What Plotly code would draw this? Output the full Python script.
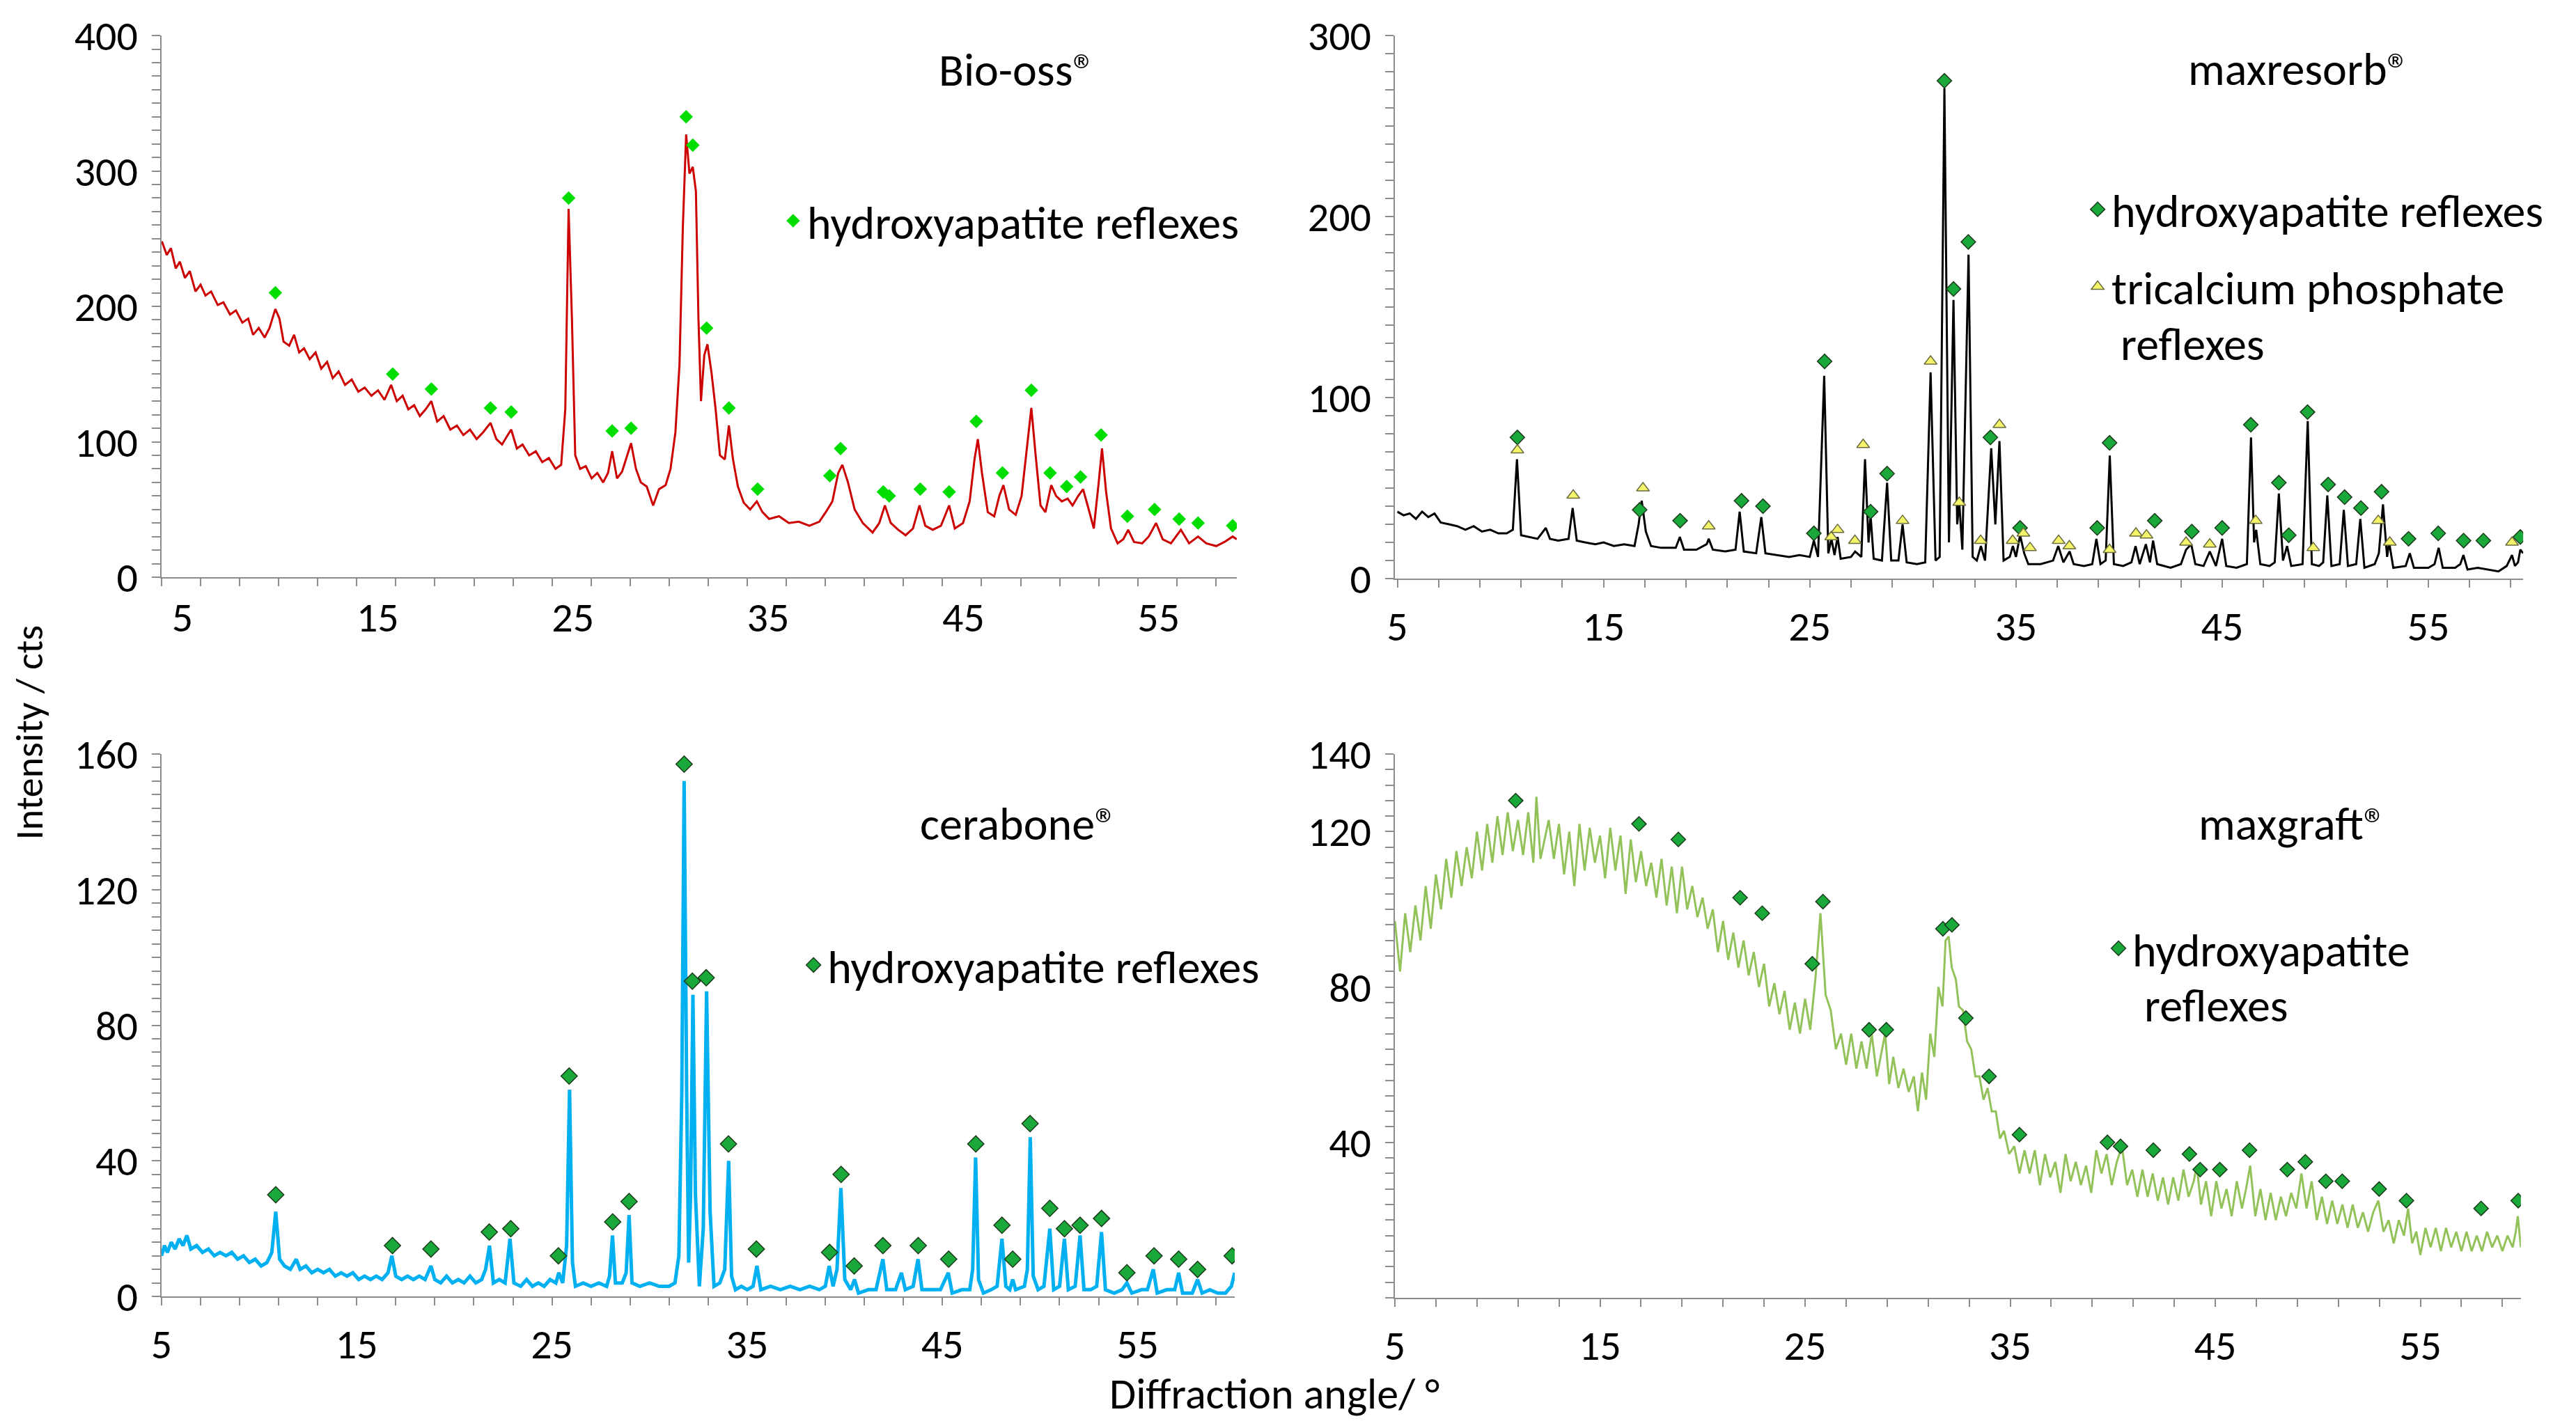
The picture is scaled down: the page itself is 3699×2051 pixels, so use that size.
import plotly.graph_objects as go

FONT = "Carlito, Lato, sans-serif"
GRAY = "#8c8c8c"

# ---- Bio-oss (top left) ----
bio_angle = [3.95, 4.2, 4.41, 4.66, 4.87, 5.13, 5.38, 5.67, 5.93, 6.18, 6.47, 6.81, 7.1, 7.44, 7.74,
             8.07, 8.37, 8.62, 8.91, 9.21, 9.46, 9.76, 9.97, 10.18, 10.47, 10.72, 10.98, 11.23, 11.52,
             11.82, 12.11, 12.41, 12.7, 13.0, 13.33, 13.67, 14.01, 14.34, 14.68, 15.02, 15.35, 15.69,
             15.98, 16.28, 16.57, 16.87, 17.16, 17.46, 17.75, 18.05, 18.38, 18.72, 19.06, 19.39, 19.73,
             20.07, 20.4, 20.78, 21.08, 21.37, 21.62, 21.84, 22.13, 22.42, 22.76, 23.1, 23.43, 23.77,
             24.11, 24.4, 24.61, 24.78, 24.95, 25.12, 25.37, 25.66, 25.96, 26.25, 26.55, 26.8, 27.01,
             27.26, 27.52, 27.77, 27.98, 28.23, 28.48, 28.78, 29.11, 29.41, 29.75, 30.0, 30.25, 30.46,
             30.63, 30.8, 30.97, 31.14, 31.3, 31.43, 31.56, 31.73, 31.89, 32.1, 32.31, 32.53, 32.78,
             32.99, 33.2, 33.45, 33.75, 34.08, 34.42, 34.71, 35.05, 35.56, 36.06, 36.57, 37.11, 37.62,
             37.95, 38.29, 38.59, 38.8, 39.09, 39.43, 39.85, 40.35, 40.69, 40.98, 41.28, 41.66, 42.04,
             42.42, 42.75, 43.05, 43.43, 43.85, 44.27, 44.56, 44.98, 45.32, 45.57, 45.74, 45.95, 46.25,
             46.58, 46.84, 47.05, 47.34, 47.68, 47.98, 48.28, 48.48, 48.7, 48.95, 49.2, 49.5, 49.75,
             50.04, 50.34, 50.59, 50.88, 51.13, 51.42, 51.68, 51.93, 52.1, 52.31, 52.56, 52.9, 53.19,
             53.44, 53.74, 54.16, 54.49, 54.87, 55.21, 55.63, 56.14, 56.56, 57.02, 57.44, 57.95, 58.37,
             58.79, 59.0]
bio_counts = [248, 238, 243, 228, 233, 221, 226, 211, 216, 208, 211, 201, 203, 194, 197,
              188, 191, 179, 184, 177, 184, 198, 191, 174, 171, 179, 166, 169, 161,
              166, 154, 159, 147, 152, 142, 146, 137, 140, 134, 138, 131, 142,
              130, 134, 124, 127, 119, 124, 130, 115, 119, 109, 112, 105, 109,
              102, 107, 114, 102, 98, 104, 109, 95, 98, 90, 93, 85, 88,
              80, 83, 124, 272, 191, 90, 80, 82, 73, 77, 70, 77, 93,
              73, 78, 90, 99, 80, 70, 67, 53, 65, 68, 80, 107, 157,
              258, 327, 298, 303, 285, 191, 130, 164, 172, 151, 124, 90, 87,
              112, 87, 67, 55, 50, 56, 48, 43, 45, 40, 41, 38, 41,
              48, 56, 77, 83, 70, 50, 40, 33, 40, 53, 40, 35, 31,
              36, 53, 38, 35, 38, 53, 36, 40, 56, 87, 102, 77, 48,
              45, 60, 68, 50, 46, 60, 97, 125, 90, 53, 48, 68, 60,
              56, 58, 53, 60, 65, 50, 36, 70, 95, 63, 36, 25, 28,
              35, 26, 25, 30, 40, 28, 25, 35, 25, 30, 25, 23, 26,
              30, 28]
bio_ha_angle = [9.76, 15.77, 17.75, 20.78, 21.84, 24.78, 27.01, 27.98, 30.8, 31.14, 31.85, 32.99,
                34.46, 38.16, 38.71, 40.9, 41.2, 42.79, 44.27, 45.66, 47.0, 48.48, 49.44, 50.29,
                51.0, 52.05, 53.4, 54.79, 56.05, 57.02, 58.79]
bio_ha_counts = [210, 150, 139, 125, 122, 280, 108, 110, 340, 319, 184, 125,
                 65, 75, 95, 63, 60, 65, 63, 115, 77, 138, 77, 67,
                 74, 105, 45, 50, 43, 40, 38]

# ---- maxresorb (top right) ----
mr_angle = [5.0, 5.3, 5.6, 5.9, 6.2, 6.5, 6.8, 7.1, 7.5, 7.9, 8.3, 8.7, 9.1, 9.5, 9.9, 10.3, 10.6,
            10.8, 11.0, 11.4, 11.8, 12.2, 12.4, 12.8, 13.3, 13.5, 13.7, 14.1, 14.6, 15.0, 15.5, 16.0,
            16.5, 16.7, 16.85, 17.05, 17.3, 17.8, 18.5, 18.7, 18.9, 19.5, 20.0, 20.1, 20.3, 20.9,
            21.4, 21.6, 21.8, 22.4, 22.65, 22.85, 23.5, 24.0, 24.5, 25.0, 25.2, 25.4, 25.7, 25.9,
            26.05, 26.2, 26.35, 26.5, 27.0, 27.2, 27.5, 27.68, 27.85, 27.95, 28.1, 28.5, 28.75,
            28.95, 29.3, 29.5, 29.7, 30.2, 30.6, 30.86, 31.1, 31.3, 31.53, 31.75, 31.97, 32.15,
            32.25, 32.4, 32.7, 32.9, 33.1, 33.3, 33.5, 33.8, 34.0, 34.2, 34.4, 34.7, 34.85, 35.0,
            35.2, 35.4, 35.6, 36.2, 36.8, 37.05, 37.3, 37.6, 37.8, 38.3, 38.7, 38.9, 39.1, 39.35,
            39.55, 39.75, 40.2, 40.6, 40.8, 41.0, 41.3, 41.5, 41.65, 41.85, 42.5, 43.0, 43.25, 43.5,
            43.7, 44.1, 44.4, 44.7, 45.0, 45.2, 45.7, 46.2, 46.4, 46.55, 46.65, 46.85, 47.3, 47.55,
            47.75, 47.95, 48.15, 48.35, 48.9, 49.15, 49.35, 49.7, 49.9, 50.1, 50.3, 50.7, 50.9,
            51.1, 51.5, 51.7, 51.9, 52.4, 52.6, 52.8, 53.0, 53.1, 53.3, 53.9, 54.1, 54.3, 55.0,
            55.3, 55.5, 55.7, 56.3, 56.55, 56.7, 56.9, 57.4, 57.9, 58.4, 58.8, 59.06, 59.2, 59.35,
            59.46, 59.6]
mr_counts = [37, 35, 36, 33, 37, 34, 36, 31, 30, 29, 27, 29, 26, 27, 25, 25, 27,
             66, 24, 23, 22, 28, 22, 21, 22, 39, 21, 20, 19, 20, 18, 19,
             18, 30, 43, 26, 18, 17, 17, 23, 16, 16, 19, 22, 16, 15,
             16, 37, 15, 14, 34, 14, 13, 12, 13, 12, 21, 12, 112, 14,
             22, 13, 23, 11, 12, 15, 12, 66, 20, 35, 11, 10, 53,
             10, 10, 30, 9, 8, 9, 114, 10, 12, 271, 20, 154, 30,
             42, 16, 179, 12, 10, 18, 10, 72, 30, 76, 10, 12, 18, 12,
             24, 14, 8, 8, 10, 18, 9, 15, 8, 7, 8, 22, 8, 10,
             68, 8, 7, 9, 18, 8, 19, 9, 21, 8, 6, 8, 16, 19,
             8, 7, 15, 7, 22, 7, 6, 8, 78, 20, 27, 8, 7, 9,
             47, 10, 18, 7, 8, 87, 8, 7, 9, 46, 7, 8, 38,
             7, 8, 33, 6, 8, 14, 41, 12, 20, 6, 7, 14, 6, 6,
             8, 17, 6, 6, 8, 13, 5, 6, 5, 4, 7, 13, 7, 9,
             16, 14]
mr_ha_angle = [10.82, 16.75, 18.71, 21.69, 22.73, 25.2, 25.72, 27.95, 28.75, 31.53, 31.97, 32.69,
               33.76, 35.2, 38.94, 39.54, 41.73, 43.53, 45.0, 46.39, 47.75, 48.23, 49.14, 50.14,
               50.94, 51.73, 52.73, 54.04, 55.48, 56.71, 57.67, 59.46]
mr_ha_counts = [78, 38, 32, 43, 40, 25, 120, 37, 58, 275, 160, 186,
                78, 28, 28, 75, 32, 26, 28, 85, 53, 24, 92, 52,
                45, 39, 48, 22, 25, 21, 21, 23]
mr_tcp_angle = [10.82, 13.53, 16.91, 20.1, 26.04, 26.35, 27.19, 27.59, 29.5, 30.86, 32.25, 33.29,
                34.2, 34.84, 35.36, 35.68, 37.07, 37.59, 39.54, 40.82, 41.33, 43.25, 44.4, 46.63,
                49.42, 52.57, 53.13, 59.06]
mr_tcp_counts = [71, 46, 50, 29, 23, 27, 21, 74, 32, 120, 42, 21,
                 85, 21, 25, 17, 21, 18, 16, 25, 24, 20, 19, 32,
                 17, 32, 20, 20]

# ---- cerabone (bottom left) ----
cb_angle = [5.0, 5.15, 5.3, 5.5, 5.7, 5.9, 6.1, 6.3, 6.5, 6.8, 7.1, 7.4, 7.7, 8.0, 8.3, 8.6, 8.9,
            9.2, 9.5, 9.8, 10.1, 10.4, 10.65, 10.85, 11.05, 11.3, 11.6, 11.9, 12.1, 12.4, 12.7, 13.0,
            13.3, 13.6, 13.9, 14.2, 14.5, 14.8, 15.1, 15.4, 15.7, 16.0, 16.3, 16.6, 16.8, 17.0, 17.3,
            17.6, 17.9, 18.2, 18.5, 18.8, 19.0, 19.3, 19.6, 19.9, 20.2, 20.5, 20.8, 21.1, 21.4, 21.6,
            21.8, 22.0, 22.3, 22.6, 22.85, 23.05, 23.4, 23.7, 24.0, 24.3, 24.6, 24.9, 25.2, 25.35,
            25.55, 25.75, 25.9, 26.05, 26.2, 26.6, 27.0, 27.4, 27.8, 27.95, 28.1, 28.25, 28.6, 28.8,
            28.95, 29.1, 29.5, 30.0, 30.5, 31.0, 31.3, 31.5, 31.65, 31.77, 31.9, 32.0, 32.1, 32.22,
            32.35, 32.55, 32.75, 32.92, 33.1, 33.3, 33.6, 33.85, 34.05, 34.2, 34.4, 34.7, 35.0, 35.3,
            35.5, 35.7, 36.2, 36.7, 37.2, 37.7, 38.2, 38.7, 39.0, 39.2, 39.4, 39.6, 39.8, 40.0, 40.3,
            40.5, 40.7, 41.2, 41.6, 41.95, 42.15, 42.6, 42.9, 43.1, 43.5, 43.75, 43.95, 44.4, 44.9,
            45.3, 45.5, 46.0, 46.4, 46.55, 46.7, 46.85, 47.1, 47.5, 47.8, 48.05, 48.25, 48.45, 48.6,
            48.75, 49.2, 49.35, 49.5, 49.65, 49.9, 50.2, 50.5, 50.7, 51.0, 51.25, 51.45, 51.8, 52.05,
            52.25, 52.6, 52.9, 53.15, 53.35, 53.8, 54.2, 54.45, 54.7, 55.2, 55.5, 55.8, 56.0, 56.5,
            56.9, 57.1, 57.3, 57.8, 58.07, 58.3, 58.7, 59.1, 59.5, 59.8, 59.97]
cb_counts = [12, 15, 13, 16, 14, 17, 15, 18, 14, 15, 13, 14, 12, 13, 12, 13, 11,
             12, 10, 11, 9, 10, 13, 25, 11, 9, 8, 11, 8, 9, 7, 8,
             7, 8, 6, 7, 6, 7, 5, 6, 5, 6, 5, 7, 12, 6, 5,
             6, 5, 6, 5, 9, 5, 4, 6, 4, 5, 4, 6, 4, 5, 8,
             15, 4, 5, 4, 17, 4, 3, 5, 3, 4, 3, 5, 4, 7,
             4, 15, 61, 10, 3, 4, 3, 4, 3, 6, 18, 4, 4, 7,
             24, 4, 3, 4, 3, 3, 4, 12, 60, 152, 60, 10, 30, 89,
             30, 3, 20, 90, 25, 3, 4, 8, 40, 6, 2, 3, 2, 3,
             9, 2, 3, 2, 3, 2, 3, 2, 3, 9, 3, 8, 32, 5, 2,
             5, 1, 2, 2, 11, 2, 2, 7, 2, 3, 11, 2, 2, 2,
             7, 1, 2, 2, 8, 41, 5, 1, 2, 3, 17, 3, 2, 5,
             2, 3, 8, 47, 6, 2, 3, 20, 2, 3, 17, 2, 3, 18,
             2, 2, 3, 19, 2, 1, 2, 4, 1, 2, 2, 8, 1, 2,
             2, 7, 1, 1, 5, 1, 2, 1, 1, 3, 7]
cb_ha_angle = [10.85, 16.83, 18.8, 21.79, 22.89, 25.33, 25.88, 28.11, 28.95, 31.77, 32.19, 32.9,
               34.04, 35.47, 39.22, 39.81, 40.48, 41.95, 43.76, 45.32, 46.71, 48.05, 48.6, 49.49,
               50.5, 51.25, 52.05, 53.15, 54.45, 55.84, 57.1, 58.07, 59.84]
cb_ha_counts = [30, 15, 14, 19, 20, 12, 65, 22, 28, 157, 93, 94,
                45, 14, 13, 36, 9, 15, 15, 11, 45, 21, 11, 51,
                26, 20, 21, 23, 7, 12, 11, 8, 12]

# ---- maxgraft (bottom right) ----
mg_angle = [5.0, 5.25, 5.5, 5.75, 6.0, 6.25, 6.5, 6.75, 7.0, 7.25, 7.5, 7.75, 8.0, 8.25, 8.5, 8.75,
            9.0, 9.25, 9.5, 9.75, 10.0, 10.25, 10.5, 10.75, 11.0, 11.25, 11.5, 11.75, 11.9, 12.1,
            12.5, 12.75, 13.0, 13.25, 13.5, 13.75, 14.0, 14.25, 14.5, 14.75, 15.0, 15.25, 15.5,
            15.75, 16.0, 16.25, 16.5, 16.75, 17.0, 17.25, 17.5, 17.75, 18.0, 18.25, 18.5, 18.75,
            19.0, 19.25, 19.5, 19.75, 20.0, 20.25, 20.5, 20.75, 21.0, 21.25, 21.5, 21.75, 22.0,
            22.25, 22.5, 22.75, 23.0, 23.25, 23.5, 23.75, 24.0, 24.25, 24.5, 24.75, 25.0, 25.25,
            25.5, 25.75, 26.0, 26.25, 26.5, 26.75, 27.0, 27.25, 27.5, 27.75, 28.0, 28.25, 28.5,
            28.75, 28.9, 29.1, 29.3, 29.55, 29.8, 30.05, 30.3, 30.5, 30.7, 30.9, 31.1, 31.3, 31.5,
            31.7, 31.85, 32.0, 32.15, 32.35, 32.5, 32.7, 32.9, 33.1, 33.3, 33.5, 33.7, 33.9, 34.1,
            34.3, 34.5, 34.7, 34.95, 35.2, 35.45, 35.7, 35.95, 36.2, 36.45, 36.7, 36.95, 37.2,
            37.45, 37.7, 37.95, 38.2, 38.45, 38.7, 38.95, 39.2, 39.45, 39.7, 39.95, 40.2, 40.45,
            40.7, 40.95, 41.2, 41.45, 41.7, 41.95, 42.2, 42.45, 42.7, 42.95, 43.2, 43.45, 43.7,
            43.95, 44.1, 44.3, 44.55, 44.8, 45.05, 45.3, 45.55, 45.8, 46.05, 46.3, 46.5, 46.7,
            46.95, 47.2, 47.45, 47.7, 47.95, 48.2, 48.45, 48.7, 48.95, 49.2, 49.45, 49.7, 49.95,
            50.2, 50.45, 50.7, 50.95, 51.2, 51.45, 51.7, 51.95, 52.2, 52.45, 52.7, 52.95, 53.2,
            53.45, 53.7, 53.95, 54.2, 54.4, 54.6, 54.8, 55.0, 55.25, 55.5, 55.75, 56.0, 56.25,
            56.5, 56.75, 57.0, 57.25, 57.5, 57.75, 58.0, 58.25, 58.5, 58.75, 59.0, 59.25, 59.5,
            59.65, 59.75, 59.9]
mg_counts = [97, 84, 99, 89, 101, 92, 106, 95, 109, 100, 113, 103, 115, 106, 116, 108,
             120, 110, 122, 112, 124, 114, 125, 115, 123, 114, 125, 112, 129, 113,
             123, 113, 122, 109, 120, 106, 122, 110, 121, 112, 119, 108, 121,
             110, 119, 104, 118, 107, 115, 106, 112, 103, 113, 101, 111, 99,
             111, 100, 106, 98, 103, 95, 100, 89, 97, 87, 94, 85, 92,
             83, 89, 80, 86, 75, 81, 73, 79, 69, 76, 68, 77, 69,
             82, 99, 78, 74, 64, 68, 60, 68, 59, 66, 59, 68, 57,
             64, 68, 55, 62, 54, 59, 53, 57, 48, 58, 51, 68, 62, 80,
             75, 92, 93, 85, 82, 75, 74, 66, 64, 57, 57, 51, 54, 48,
             48, 41, 43, 37, 39, 32, 38, 32, 38, 29, 37, 31, 35,
             27, 37, 30, 35, 29, 34, 27, 38, 32, 37, 29, 35, 39,
             29, 33, 26, 33, 26, 32, 25, 31, 24, 31, 25, 33, 26,
             30, 34, 24, 30, 21, 30, 23, 28, 21, 30, 23, 28, 34,
             21, 28, 20, 27, 20, 26, 21, 27, 23, 32, 23, 30, 20,
             26, 19, 25, 19, 24, 18, 24, 18, 22, 17, 22, 25, 17,
             20, 14, 20, 16, 23, 14, 17, 11, 18, 13, 18, 12, 18,
             13, 17, 12, 17, 12, 16, 12, 17, 13, 16, 12, 16, 13,
             17, 21, 13]
mg_ha_angle = [10.89, 16.9, 18.82, 21.83, 22.91, 25.35, 25.87, 28.12, 28.96, 31.72, 32.16, 32.84,
               33.97, 35.45, 39.74, 40.38, 41.98, 43.74, 44.26, 45.22, 46.67, 48.51, 49.39, 50.39,
               51.19, 52.99, 54.32, 57.96, 59.77]
mg_ha_counts = [128, 122, 118, 103, 99, 86, 102, 69, 69, 95, 96, 72,
                57, 42, 40, 39, 38, 37, 33, 33, 38, 33, 35, 30,
                30, 28, 25, 23, 25]

fig = go.Figure()

line_sets = [
    (bio_angle, bio_counts, "#cc0000", 3, "x", "y"),
    (mr_angle, mr_counts, "#000000", 3, "x2", "y2"),
    (cb_angle, cb_counts, "#00b0f0", 5, "x3", "y3"),
    (mg_angle, mg_counts, "#93c25a", 3, "x4", "y4"),
]
for xs, ys, col, w, xa, ya in line_sets:
    fig.add_trace(go.Scatter(x=xs, y=ys, mode="lines", line=dict(color=col, width=w),
                             xaxis=xa, yaxis=ya, showlegend=False, hoverinfo="skip"))

ha_outline = dict(color="#1a3a1a", width=1.5)
fig.add_trace(go.Scatter(x=bio_ha_angle, y=bio_ha_counts, mode="markers", name="hydroxyapatite reflexes",
                         marker=dict(symbol="diamond", size=15, color="#00dd00"),
                         xaxis="x", yaxis="y", legend="legend"))
fig.add_trace(go.Scatter(x=mr_ha_angle, y=mr_ha_counts, mode="markers", name="hydroxyapatite reflexes",
                         marker=dict(symbol="diamond", size=16, color="#1aa83a", line=ha_outline),
                         xaxis="x2", yaxis="y2", legend="legend2", legendgroup="ha"))
fig.add_trace(go.Scatter(x=mr_tcp_angle, y=mr_tcp_counts, mode="markers", name="tricalcium phosphate",
                         marker=dict(symbol="triangle-up", size=16, color="#f4f46a",
                                     line=dict(color="#6b6b40", width=1.5)),
                         xaxis="x2", yaxis="y2", legend="legend2", legendgroup="tcp"))
fig.add_trace(go.Scatter(x=cb_ha_angle, y=cb_ha_counts, mode="markers", name="hydroxyapatite reflexes",
                         marker=dict(symbol="diamond", size=18, color="#1aa83a", line=ha_outline),
                         xaxis="x3", yaxis="y3", legend="legend3"))
fig.add_trace(go.Scatter(x=mg_ha_angle, y=mg_ha_counts, mode="markers", name="hydroxyapatite",
                         marker=dict(symbol="diamond", size=16, color="#1aa83a", line=ha_outline),
                         xaxis="x4", yaxis="y4", legend="legend4"))


def xaxis(domain, rng, anchor, minor0):
    return dict(domain=domain, range=rng, anchor=anchor, tick0=5, dtick=10, automargin=False,
                showline=True, linecolor=GRAY, linewidth=2, showgrid=False, zeroline=False,
                ticks="outside" if minor0 == 5 else "", ticklen=11, tickwidth=2, tickcolor=GRAY,
                minor=dict(ticks="outside", tick0=minor0, dtick=2, ticklen=11, tickwidth=2,
                           tickcolor=GRAY, showgrid=False),
                tickfont=dict(size=60, color="black"), ticklabelstandoff=4)


def yaxis(domain, top, major, minor, anchor, tickvals=None):
    d = dict(domain=domain, range=[0, top], anchor=anchor, automargin=False,
             showline=True, linecolor=GRAY, linewidth=2, showgrid=False, zeroline=False,
             ticks="outside", ticklen=12, tickwidth=2, tickcolor=GRAY,
             minor=dict(ticks="outside", tickmode="array",
                        tickvals=list(range(0, top + 1, minor)), ticklen=12, tickwidth=2,
                        tickcolor=GRAY, showgrid=False),
             tickfont=dict(size=60, color="black"), ticklabelstandoff=8)
    if tickvals is None:
        d.update(tickmode="array", tickvals=list(range(0, top + 1, major)))
    else:
        d.update(tickmode="array", tickvals=tickvals)
    return d


def legend(x, y, yanchor="middle"):
    return dict(x=x, y=y, xanchor="left", yanchor=yanchor, bgcolor="rgba(0,0,0,0)",
                font=dict(family=FONT, size=66, color="black"), itemsizing="trace",
                traceorder="grouped", tracegroupgap=22)


fig.update_layout(
    width=3699, height=2051,
    margin=dict(l=0, r=0, t=0, b=0),
    paper_bgcolor="white", plot_bgcolor="white",
    font=dict(family=FONT, size=60, color="black"),
    xaxis=xaxis([0.0627, 0.4801], [3.93, 59.0], "y", 3.93),
    yaxis=yaxis([0.5958, 0.9751], 400, 100, 10, "x"),
    xaxis2=xaxis([0.5415, 0.9795], [4.88, 59.6], "y2", 5),
    yaxis2=yaxis([0.5948, 0.9751], 300, 100, 10, "x2"),
    xaxis3=xaxis([0.0627, 0.4793], [5, 59.97], "y3", 5),
    yaxis3=yaxis([0.0921, 0.4720], 160, 40, 4, "x3"),
    xaxis4=xaxis([0.5415, 0.9786], [5, 59.9], "y4", 5),
    yaxis4=yaxis([0.0912, 0.4720], 140, 40, 4, "x4", tickvals=[40, 80, 120, 140]),
    legend=legend(0.3025, 0.8454),
    legend2=legend(0.8089, 0.8775, "top"),
    legend3=legend(0.3104, 0.3242),
    legend4=legend(0.8170, 0.3359),
    showlegend=True,
)

notes = [
    ("Bio-oss®", 0.3950, 0.9510, "center", 66),
    ("maxresorb®", 0.8925, 0.9515, "center", 66),
    ("cerabone®", 0.3955, 0.4230, "center", 66),
    ("maxgraft®", 0.8900, 0.4230, "center", 66),
    ("reflexes", 0.8226, 0.7590, "left", 66),
    ("reflexes", 0.8319, 0.2955, "left", 66),
    ("Diffraction angle/ °", 0.4947, 0.0240, "center", 62),
]
for text, x, y, anchor, size in notes:
    fig.add_annotation(text=text, x=x, y=y, xref="paper", yref="paper", xanchor=anchor,
                       yanchor="middle", showarrow=False, font=dict(family=FONT, size=size, color="black"))
fig.add_annotation(text="Intensity / cts", x=0.0114, y=0.487, xref="paper", yref="paper",
                   xanchor="center", yanchor="middle", textangle=-90, showarrow=False,
                   font=dict(family=FONT, size=56, color="black"))

fig.write_html("out.html", config={"displayModeBar": False},
               post_script="document.body.style.margin='0';")
